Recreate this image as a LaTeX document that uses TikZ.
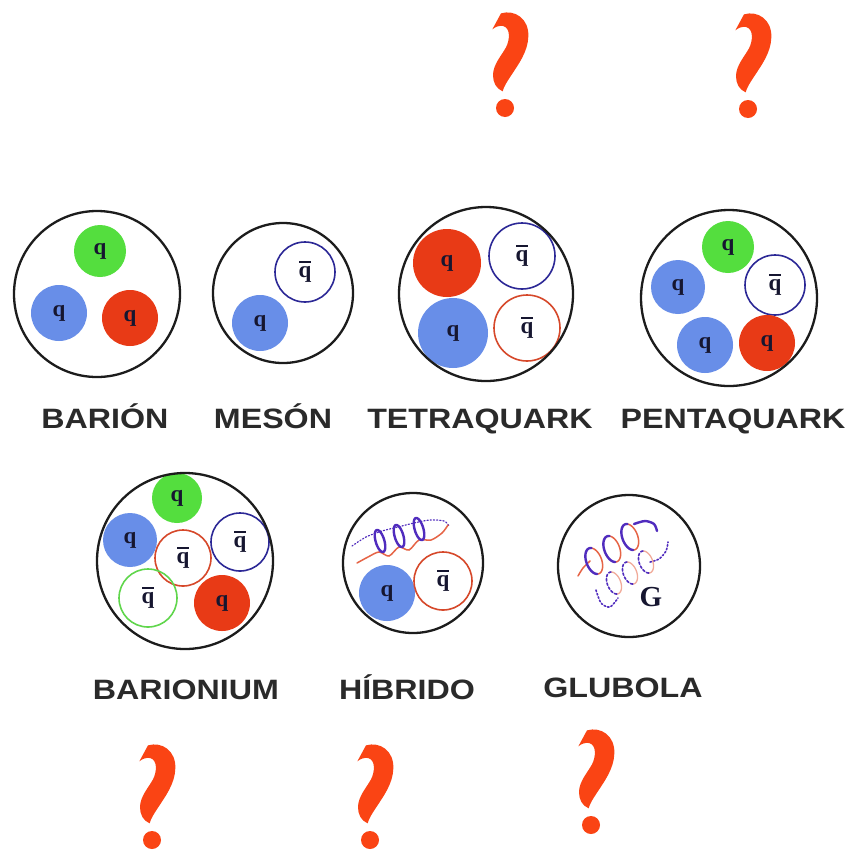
\documentclass[tikz,border=0pt]{standalone}
\usepackage{fontspec}
\setmainfont{Liberation Serif}
\newfontfamily\labelfont{Liberation Sans}

\definecolor{qgreen}{RGB}{84,222,62}
\definecolor{qblue}{RGB}{104,142,232}
\definecolor{qred}{RGB}{232,58,22}
\definecolor{abblue}{RGB}{44,40,150}
\definecolor{abred}{RGB}{214,72,42}
\definecolor{abgreen}{RGB}{96,214,76}
\definecolor{ink}{RGB}{22,22,48}
\definecolor{shell}{RGB}{28,28,28}
\definecolor{qmcol}{RGB}{250,68,20}
\definecolor{lab}{RGB}{42,42,42}
\definecolor{glured}{RGB}{230,100,70}
\definecolor{glublue}{RGB}{80,44,190}

% antiquark symbol: q with a bar over it
\newcommand{\aq}{\leavevmode\rlap{\hspace{0.03em}\rule[0.64em]{0.5em}{0.075em}}q}
\newcommand{\qfont}{\bfseries\fontsize{23}{23}\selectfont}

% one arc of a gluon loop: #1 style, #2 cx, #3 cy, #4 rx, #5 ry, #6 from angle, #7 to angle
\newcommand{\looparc}[7]{%
  \draw[#1] plot[domain=#6:#7, samples=40, variable=\t, smooth]
    ({#2+#4*cos(\t)+0.25*#5*sin(\t)}, {#3+#5*sin(\t)});}

\tikzset{
  quark/.style={circle, fill=#1, inner sep=0pt, minimum size=54pt, font=\qfont, text=ink},
  antiq/.style={circle, draw=#1, line width=1.6pt, inner sep=0pt, minimum size=60pt, font=\qfont, text=ink},
  hadron/.style={circle, draw=shell, line width=2.3pt, inner sep=0pt},
  lbl/.style={font=\labelfont\bfseries\fontsize{28}{28}\selectfont, text=lab, anchor=base, inner sep=0pt},
  gback/.style={draw=glured, line width=1.5pt, line cap=round},
  gfront/.style={draw=glublue, line width=2.4pt, line cap=round},
  qmark/.pic={
    \fill[qmcol, scale=1/3] (-38,-236) -- (-12,-284)
      .. controls (30,-296) and (72,-268) .. (70,-215)
      .. controls (69,-168) and (38,-128) .. (18,-97)
      .. controls (7,-80) and (-3,-66) .. (-7,-50)
      .. controls (-26,-58) and (-36,-76) .. (-36,-98)
      .. controls (-36,-130) and (-12,-155) .. (3,-182)
      .. controls (14,-203) and (18,-240) .. (-6,-246)
      .. controls (-19,-248) and (-29,-243) .. (-38,-236) -- cycle;
    \fill[qmcol] (0,0) circle (9pt);
  }
}

\begin{document}
\begin{tikzpicture}[x=1pt, y=-1pt]
\fill[white] (0,0) rectangle (850,849);
\useasboundingbox (0,0) rectangle (850,849);

% ---- barion ----
\node[quark=qgreen, minimum size=52pt] (b1) at (100,251) {q};
\node[quark=qblue, minimum size=56pt] (b2) at (59,313) {q};
\node[quark=qred, minimum size=56pt] (b3) at (130,318) {q};
\node[hadron, minimum size=166pt] (barion) at (97,294) {};

% ---- meson ----
\node[antiq=abblue, minimum size=60pt] (m1) at (305,272) {\aq};
\node[quark=qblue, minimum size=56pt] (m2) at (260,323) {q};
\node[hadron, minimum size=140pt] (meson) at (283,293) {};

% ---- tetraquark ----
\node[quark=qred, minimum size=68pt] (t1) at (447,263) {q};
\node[antiq=abblue, minimum size=66pt] (t2) at (522,256) {\aq};
\node[quark=qblue, minimum size=70pt] (t3) at (453,333) {q};
\node[antiq=abred, minimum size=66pt] (t4) at (527,328) {\aq};
\node[hadron, minimum size=174pt] (tetra) at (486,294) {};

% ---- pentaquark ----
\node[quark=qgreen, minimum size=52pt] (p1) at (728,247) {q};
\node[quark=qblue, minimum size=54pt] (p2) at (678,287) {q};
\node[antiq=abblue, minimum size=60pt] (p3) at (775,285) {\aq};
\node[quark=qblue, minimum size=56pt] (p4) at (705,345) {q};
\node[quark=qred, minimum size=56pt] (p5) at (767,343) {q};
\node[hadron, minimum size=176pt] (penta) at (729,298) {};

% ---- barionium ----
\node[quark=qgreen, minimum size=50pt] (r1) at (177,498) {q};
\node[quark=qblue, minimum size=54pt] (r2) at (130,540) {q};
\node[antiq=abred, minimum size=56pt] (r3) at (183,558) {\aq};
\node[antiq=abblue, minimum size=58pt] (r4) at (240,542) {\aq};
\node[antiq=abgreen, minimum size=58pt] (r5) at (148,598) {\aq};
\node[quark=qred, minimum size=56pt] (r6) at (222,603) {q};
\node[hadron, minimum size=176pt] (barionium) at (185,561) {};

% ---- hybrid: quark, antiquark and a gluon spring ----
\node[quark=qblue, minimum size=56pt] (h1) at (387,593) {q};
\node[antiq=abred, minimum size=58pt] (h2) at (443,581) {\aq};
\draw[glublue, line width=1.2pt, dotted, line cap=round]
  plot[smooth] coordinates {(352,546) (366,537) (382,531) (398,527) (414,523) (430,520) (444,521) (449,526)};
\draw[gback] plot[smooth] coordinates {(357,563) (368,557) (379,552) (389,556) (399,547) (409,550) (419,540) (431,540) (442,533) (448,525)};
\foreach \cx/\cy in {380/541, 399/536, 419/529}{
  \looparc{gfront}{\cx}{\cy}{4.5}{11}{0}{360}
}
\node[hadron, minimum size=140pt] (hibrido) at (413,563) {};

% ---- glueball: two gluon springs ----
% lower spring, faint
\draw[glublue, line width=1.6pt, dotted, line cap=round]
  plot[smooth] coordinates {(596,590) (601,603) (610,607) (618,598)};
\draw[glublue, line width=1.6pt, dotted, line cap=round]
  plot[smooth] coordinates {(650,562) (659,559) (666,551) (668,542)};
\foreach \cx/\cy in {614/583, 630/573, 646/562}{
  \looparc{gback, draw=glured!55, line width=1.3pt}{\cx}{\cy}{7}{11}{-90}{90}
  \looparc{gfront, dotted, line width=1.6pt}{\cx}{\cy}{7}{11}{90}{270}
}
% upper spring
\draw[gback] plot[smooth] coordinates {(578,576) (583,568) (590,561)};
\foreach \cx/\cy in {594/561, 612/549, 630/537}{
  \looparc{gback}{\cx}{\cy}{8}{13}{-100}{100}
  \looparc{gfront}{\cx}{\cy}{8}{13}{90}{275}
}
\draw[gfront] plot[smooth] coordinates {(634,524) (645,521) (654,524) (657,531)};
\node[font=\bfseries\fontsize{29}{29}\selectfont, text=ink, inner sep=0pt] (g) at (651,597) {G};
\node[hadron, minimum size=142pt] (glubola) at (629,566) {};

% ---- labels ----
\node[lbl] (lbarion) at (105,428) {\scalebox{1.15}[1]{BARIÓN}};
\node[lbl] (lmeson) at (273,428) {\scalebox{1.15}[1]{MESÓN}};
\node[lbl] (ltetra) at (480,428) {\scalebox{1.15}[1]{TETRAQUARK}};
\node[lbl] (lpenta) at (733,428) {\scalebox{1.15}[1]{PENTAQUARK}};
\node[lbl] (lbarionium) at (186,699) {\scalebox{1.15}[1]{BARIONIUM}};
\node[lbl] (lhibrido) at (407,699) {\scalebox{1.15}[1]{HÍBRIDO}};
\node[lbl] (lglubola) at (623,697) {\scalebox{1.15}[1]{GLUBOLA}};

% ---- question marks ----
\pic at (505,108) {qmark};
\pic at (748,109) {qmark};
\pic at (152,840) {qmark};
\pic at (370,840) {qmark};
\pic at (591,825) {qmark};
\end{tikzpicture}
\end{document}
